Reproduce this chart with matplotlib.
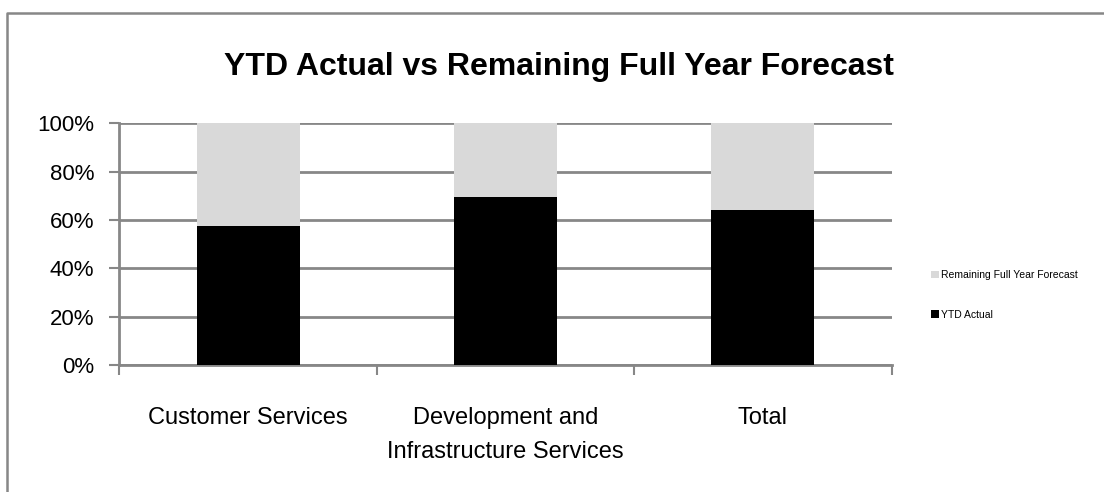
import matplotlib
matplotlib.use("Agg")
import matplotlib.pyplot as plt
from matplotlib.lines import Line2D
from matplotlib.ticker import FixedLocator, PercentFormatter

# data
categories = ["Customer Services", "Development and\nInfrastructure Services", "Total"]
ytd_actual = [0.574, 0.695, 0.641]
remaining = [1 - v for v in ytd_actual]
series_names = ["YTD Actual", "Remaining Full Year Forecast"]

plt.rcParams["font.family"] = ["Liberation Sans", "DejaVu Sans"]
GRAY = "#878787"

fig = plt.figure(figsize=(11.04, 4.92), dpi=100)
ax = fig.add_axes([119.3 / 1104, 1 - 365 / 492, 772.4 / 1104, 241.7 / 492])

x = list(range(len(categories)))
b1 = ax.bar(x, ytd_actual, width=0.40, color="black", label=series_names[0], zorder=3)
b2 = ax.bar(x, remaining, bottom=ytd_actual, width=0.40, color="#d9d9d9",
            label=series_names[1], zorder=3)

ax.set_xlim(-0.5, len(categories) - 0.5)
ax.set_ylim(0, 1)
ax.yaxis.set_major_locator(FixedLocator([0, 0.2, 0.4, 0.6, 0.8, 1.0]))
ax.yaxis.set_major_formatter(PercentFormatter(1.0, decimals=0))
ax.grid(axis="y", color=GRAY, linewidth=2, zorder=0)

ax.set_xticks(x)
ax.set_xticklabels(categories, fontsize=17, linespacing=1.7)
ax.set_xticks([-0.5, 0.5, 1.5, 2.5], minor=True)
ax.tick_params(axis="x", which="major", length=0, pad=30)
ax.tick_params(axis="x", which="minor", length=7, width=1.5, color=GRAY)
ax.tick_params(axis="y", length=7, width=1.5, color=GRAY, labelsize=16, pad=11)

for side in ["top", "right"]:
    ax.spines[side].set_visible(False)
for side in ["left", "bottom"]:
    ax.spines[side].set_color(GRAY)
    ax.spines[side].set_linewidth(2)

fig.text(559 / 1104, 1 - 75 / 492, "YTD Actual vs Remaining Full Year Forecast",
         ha="center", va="baseline", fontsize=23, fontweight="bold")

ax.legend(handles=[b2, b1], loc="center left", bbox_to_anchor=(922 / 1104, 1 - 295 / 492),
          bbox_transform=fig.transFigure, frameon=False, fontsize=7.5,
          handlelength=0.7, handleheight=0.7, handletextpad=0.2, labelspacing=2.8)

# outer chart border (top and left only visible)
fig.add_artist(Line2D([7 / 1104, 7 / 1104, 1], [0, 1 - 12.5 / 492, 1 - 12.5 / 492],
                      transform=fig.transFigure, color=GRAY, linewidth=1.8))

fig.savefig("out.png", dpi=100)
